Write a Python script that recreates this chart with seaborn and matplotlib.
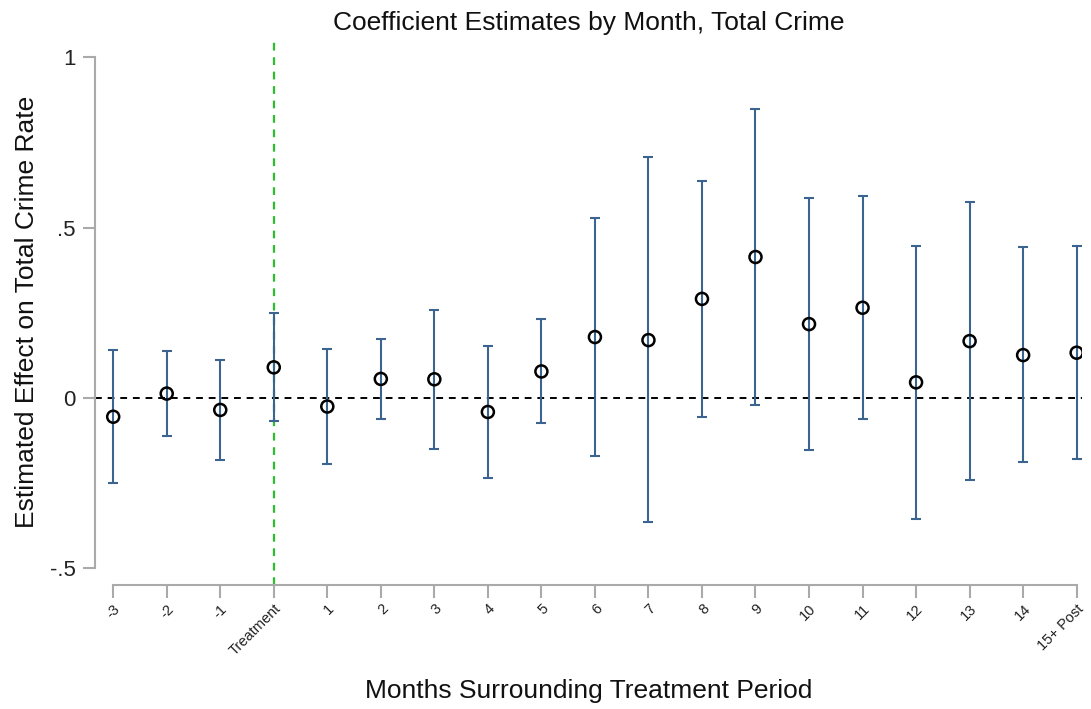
import numpy as np
import pandas as pd
import matplotlib
matplotlib.use("Agg")
import matplotlib.pyplot as plt
import seaborn as sns

# Event-study coefficients with 95% confidence bounds
periods = ["-3", "-2", "-1", "Treatment", "1", "2", "3", "4", "5", "6", "7",
           "8", "9", "10", "11", "12", "13", "14", "15+ Post"]
estimates = [-0.055, 0.013, -0.035, 0.090, -0.025, 0.056, 0.055, -0.041, 0.078,
             0.179, 0.170, 0.291, 0.414, 0.217, 0.265, 0.046, 0.167, 0.126, 0.133]
upper = [0.140, 0.137, 0.111, 0.249, 0.143, 0.172, 0.259, 0.153, 0.231,
         0.529, 0.707, 0.637, 0.848, 0.587, 0.592, 0.447, 0.576, 0.443, 0.446]
lower = [-0.249, -0.111, -0.182, -0.068, -0.195, -0.061, -0.150, -0.234, -0.074,
         -0.170, -0.365, -0.055, -0.020, -0.154, -0.063, -0.355, -0.242, -0.189, -0.180]
y_ticks = [-0.5, 0, 0.5, 1]
y_tick_labels = ["-.5", "0", ".5", "1"]

df = pd.DataFrame({"period": periods, "est": estimates, "lo": lower, "hi": upper})
df["pos"] = np.arange(len(df))

sns.set_theme(style="white")
plt.rcParams["font.family"] = ["Liberation Sans", "DejaVu Sans"]

fig = plt.figure(figsize=(10.91, 7.09), dpi=100)
ax = fig.add_axes([95 / 1091, 1 - 585 / 709, (1082 - 95) / 1091, (585 - 38) / 709])

bar_color = "#3b6491"
ax.errorbar(df["pos"], df["est"], yerr=[df["est"] - df["lo"], df["hi"] - df["est"]],
            fmt="none", ecolor=bar_color, elinewidth=1.5, capsize=3.8, capthick=1.5, zorder=2)
sns.scatterplot(data=df, x="pos", y="est", ax=ax, marker="o", s=75,
                facecolor="none", edgecolor="black", linewidth=1.8, zorder=3, legend=False)

ax.axhline(0, color="black", linestyle=(0, (3.5, 3)), linewidth=1.4, zorder=1)
ax.axvline(df.loc[df["period"] == "Treatment", "pos"].iloc[0], color="#2dbd2d",
           linestyle=(0, (3.5, 3)), linewidth=1.6, zorder=1)

ax.set_xlim(-0.34, len(df) - 1 + 0.1)
ax.set_ylim(-0.549, 1.057)

ax.set_xticks(df["pos"])
ax.set_xticklabels(df["period"], rotation=45, ha="right", rotation_mode="anchor")
ax.set_yticks(y_ticks)
ax.set_yticklabels(y_tick_labels)

for side in ["top", "right"]:
    ax.spines[side].set_visible(False)
for side in ["left", "bottom"]:
    ax.spines[side].set_color("#aaaaaa")
    ax.spines[side].set_linewidth(1.5)
ax.spines["left"].set_bounds(-0.5, 1)
ax.spines["bottom"].set_bounds(0, len(df) - 1)
ax.tick_params(axis="both", which="both", direction="out", length=9, width=1.5,
               color="#aaaaaa", left=True, bottom=True, labelcolor="#222222")
ax.tick_params(axis="y", pad=5, labelsize=16)
ax.tick_params(axis="x", pad=3, labelsize=10.5)

ax.set_xlabel("Months Surrounding Treatment Period", fontsize=19, labelpad=15, color="#111111")
ax.set_ylabel("Estimated Effect on Total Crime Rate", fontsize=19, labelpad=8, color="#111111")
ax.set_title("Coefficient Estimates by Month, Total Crime", fontsize=19, pad=6, color="#111111")
ax.grid(False)

fig.savefig("out.png", dpi=100, facecolor="white")
